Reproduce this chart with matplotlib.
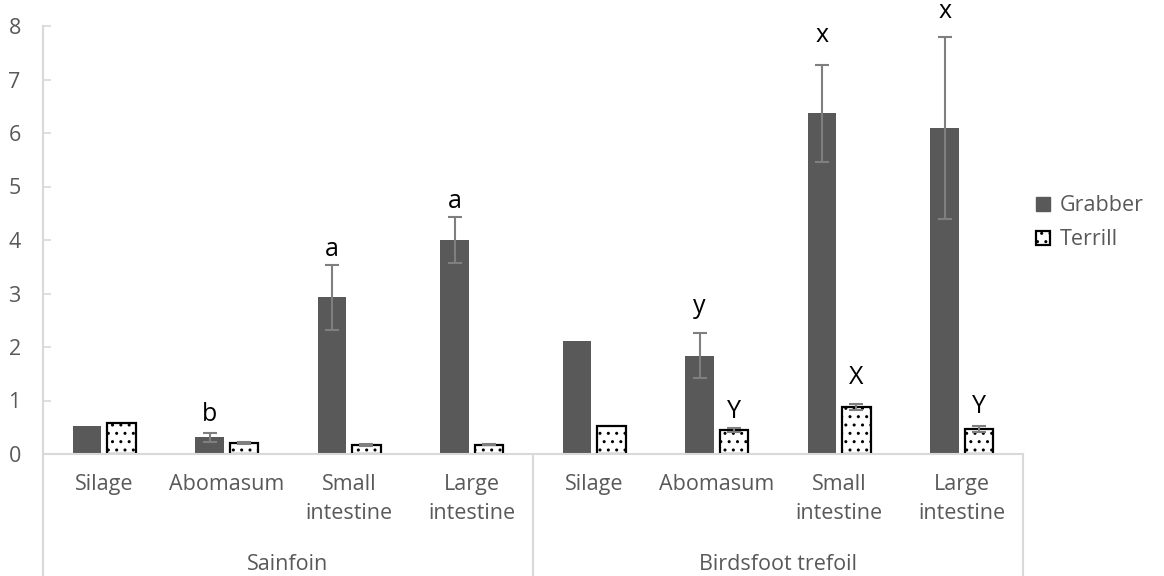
import numpy as np
import matplotlib.pyplot as plt
from matplotlib.patches import Patch
from matplotlib.lines import Line2D

plt.rcParams['font.family'] = ['Open Sans', 'DejaVu Sans']
plt.rcParams['hatch.linewidth'] = 1.0

# data
forages = ['Sainfoin', 'Birdsfoot trefoil']
sites = ['Silage', 'Abomasum', 'Small\nintestine', 'Large\nintestine']

grabber = [0.52, 0.31, 2.93, 4.00, 2.11, 1.84, 6.37, 6.10]
grabber_err = [0.0, 0.09, 0.61, 0.43, 0.0, 0.42, 0.91, 1.70]
terrill = [0.58, 0.20, 0.17, 0.17, 0.52, 0.45, 0.88, 0.47]
terrill_err = [0.0, 0.02, 0.02, 0.01, 0.0, 0.03, 0.05, 0.05]

grabber_letters = ['', 'b', 'a', 'a', '', 'y', 'x', 'x']
terrill_letters = ['', '', '', '', '', 'Y', 'X', 'Y']
# gap (points) between the top of the error bar and the letter
grabber_gap = [0, 4, 2, 2, 0, 10, 12, 9]
terrill_gap = [0, 0, 0, 0, 0, 3, 10, 5]

grey_text = '#595959'
axis_grey = '#d9d9d9'
fs = 15.5

fig = plt.figure(figsize=(11.64, 5.76), dpi=100)
ax = fig.add_axes([43 / 1164, (576 - 454) / 576, (1023 - 43) / 1164, (454 - 26) / 576])

n = len(grabber)
x = np.arange(n)
w = 0.235
off = 0.14

ax.bar(x - off, grabber, w, color='#595959', zorder=2)
ax.bar(x + off, terrill, w, color='white', edgecolor='black', linewidth=1.6,
       hatch='..', zorder=2)

# error bars only where there is a spread
for i in range(n):
    if grabber_err[i] > 0:
        ax.errorbar(x[i] - off, grabber[i], yerr=grabber_err[i], fmt='none',
                    ecolor='#7f7f7f', elinewidth=1.5, capsize=5, capthick=1.5, zorder=3)
    if terrill_err[i] > 0:
        ax.errorbar(x[i] + off, terrill[i], yerr=terrill_err[i], fmt='none',
                    ecolor='#7f7f7f', elinewidth=1.5, capsize=5, capthick=1.5, zorder=3)

# significance letters
for i in range(n):
    if grabber_letters[i]:
        ax.annotate(grabber_letters[i], (x[i] - off, grabber[i] + grabber_err[i]),
                    xytext=(0, grabber_gap[i]), textcoords='offset points',
                    ha='center', va='bottom', fontsize=18, color='black',
                    annotation_clip=False)
    if terrill_letters[i]:
        ax.annotate(terrill_letters[i], (x[i] + off, terrill[i] + terrill_err[i]),
                    xytext=(0, terrill_gap[i]), textcoords='offset points',
                    ha='center', va='bottom', fontsize=18, color='black',
                    annotation_clip=False)

ax.set_xlim(-0.5, n - 0.5)
ax.set_ylim(0, 8)
ax.set_yticks(range(0, 9))
ax.tick_params(axis='y', direction='in', length=6, width=1.2, color=axis_grey,
               labelsize=fs, labelcolor=grey_text, pad=16)
ax.set_xticks([])

for s in ['top', 'right']:
    ax.spines[s].set_visible(False)
ax.spines['bottom'].set_color(axis_grey)
ax.spines['bottom'].set_linewidth(1.5)
ax.spines['left'].set_visible(False)

# two-level category axis
ybot = -(576 - 454) / 428
tr = ax.get_xaxis_transform()
for xv in [-0.5, 3.5, 7.5]:
    ax.add_line(Line2D([xv, xv], [ybot, 0 if xv != -0.5 else 1], transform=tr,
                       color=axis_grey, linewidth=1.5, clip_on=False))
for i in range(n):
    ax.text(x[i], -0.046, sites[i % 4], transform=tr, ha='center', va='top',
            fontsize=fs, color=grey_text, linespacing=1.55)
for g, name in enumerate(forages):
    ax.text(1.5 + 4 * g, -0.258, name, transform=tr, ha='center', va='center',
            fontsize=fs, color=grey_text)

handles = [Patch(facecolor='#595959', edgecolor='#595959', label='Grabber'),
           Patch(facecolor='white', edgecolor='black', hatch='..', linewidth=1.6,
                 label='Terrill')]
ax.legend(handles=handles, loc='center left', bbox_to_anchor=(1.0, 0.54),
          frameon=False, fontsize=fs, labelcolor=grey_text, handlelength=0.65,
          handleheight=0.65, handletextpad=0.45, labelspacing=0.6,
          borderaxespad=0.2)

fig.savefig('out.png', dpi=100)
